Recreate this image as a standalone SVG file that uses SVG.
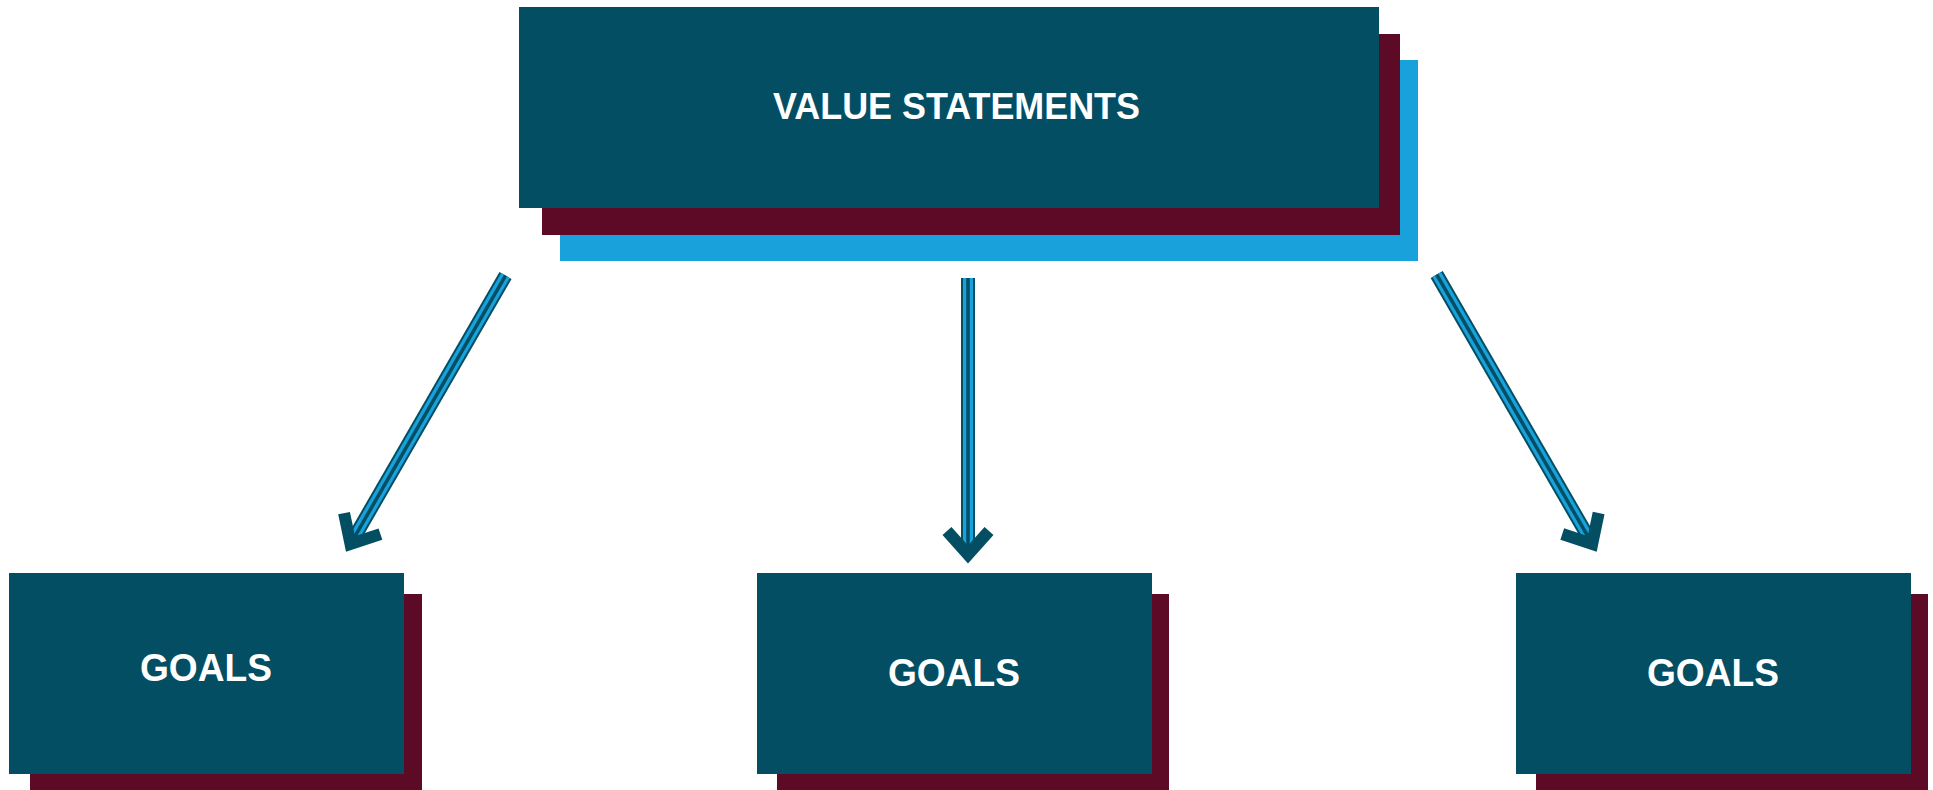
<svg xmlns="http://www.w3.org/2000/svg" width="1933" height="790" viewBox="0 0 1933 790">
<style>
.teal{fill:#034E63}
.wine{fill:#5C0A25}
.sky{fill:#18A1DA}
.lbl{font-family:"Liberation Sans",Arial,sans-serif;font-weight:bold;fill:#ffffff;text-anchor:middle}
.sh1{stroke:#034E63;stroke-width:14;fill:none}
.sh2{stroke:#18A1DA;stroke-width:10;fill:none}
.sh3{stroke:#034E63;stroke-width:3.5;fill:none}
.head{stroke:#034E63;stroke-width:12;fill:none;stroke-linejoin:miter;stroke-linecap:butt}
</style>
<rect width="1933" height="790" fill="#ffffff"/>
<g id="value-statements">
<rect class="sky" x="560" y="60" width="858" height="201"/>
<rect class="wine" x="542" y="34" width="858" height="201"/>
<rect class="teal" x="519" y="7" width="860" height="201"/>
<text class="lbl" x="956.5" y="119" font-size="37" textLength="367" lengthAdjust="spacingAndGlyphs">VALUE STATEMENTS</text>
</g>
<g id="goals-left">
<rect class="wine" x="30" y="594" width="392" height="196"/>
<rect class="teal" x="9" y="573" width="395" height="201"/>
<text class="lbl" x="206" y="681" font-size="38" textLength="132" lengthAdjust="spacingAndGlyphs">GOALS</text>
</g>
<g id="goals-middle">
<rect class="wine" x="777" y="594" width="392" height="196"/>
<rect class="teal" x="757" y="573" width="395" height="201"/>
<text class="lbl" x="954" y="685.5" font-size="38" textLength="132" lengthAdjust="spacingAndGlyphs">GOALS</text>
</g>
<g id="goals-right">
<rect class="wine" x="1536" y="594" width="392" height="196"/>
<rect class="teal" x="1516" y="573" width="395" height="201"/>
<text class="lbl" x="1713" y="685.5" font-size="38" textLength="132" lengthAdjust="spacingAndGlyphs">GOALS</text>
</g>
<g id="connectors">
<g transform="translate(505.5,275.5) rotate(30)">
<line class="sh1" x1="0" y1="0" x2="0" y2="306"/>
<line class="sh2" x1="0" y1="0" x2="0" y2="306"/>
<line class="sh3" x1="0" y1="0" x2="0" y2="306"/>
<polyline class="head" points="-21,286.5 0,310 21,286.5"/>
</g>
<g transform="translate(968,278)">
<line class="sh1" x1="0" y1="0" x2="0" y2="273"/>
<line class="sh2" x1="0" y1="0" x2="0" y2="273"/>
<line class="sh3" x1="0" y1="0" x2="0" y2="273"/>
<polyline class="head" points="-21,253 0,276.5 21,253"/>
</g>
<g transform="translate(1436.7,274.5) rotate(-30)">
<line class="sh1" x1="0" y1="0" x2="0" y2="307"/>
<line class="sh2" x1="0" y1="0" x2="0" y2="307"/>
<line class="sh3" x1="0" y1="0" x2="0" y2="307"/>
<polyline class="head" points="-21,287.5 0,311 21,287.5"/>
</g>
</g>
</svg>
